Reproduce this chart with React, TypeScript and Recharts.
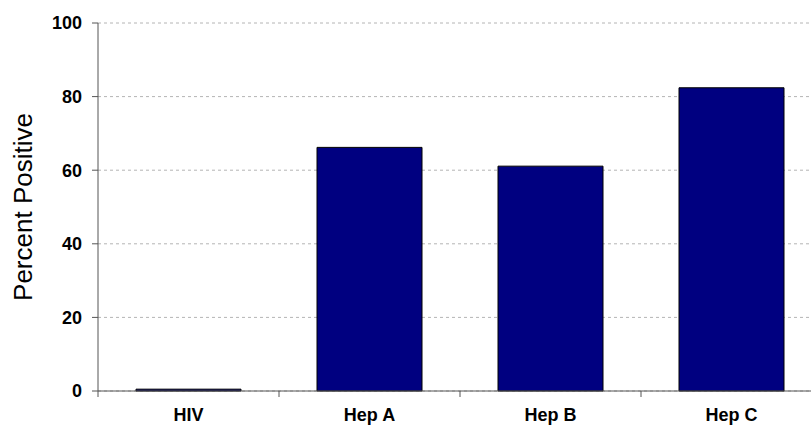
import { BarChart, Bar, XAxis, YAxis, CartesianGrid } from 'recharts';

const categories = ['HIV', 'Hep A', 'Hep B', 'Hep C'];
const percentPositive = [0.5, 66.2, 61.1, 82.4];
const yTicks = [0, 20, 40, 60, 80, 100];

const data = categories.map((name, i) => ({ name, value: percentPositive[i] }));

// plot runs past the right edge of the picture (it is cropped)
const PLOT_W = 724;
const BAND = PLOT_W / categories.length;

const CategoryTick = ({ x, y, payload, index }: any) => (
  <g>
    <line x1={x - BAND / 2} x2={x - BAND / 2} y1={y - 8} y2={y - 2} stroke="#555" />
    {index === categories.length - 1 && (
      <line x1={x + BAND / 2} x2={x + BAND / 2} y1={y - 8} y2={y - 2} stroke="#555" />
    )}
    <text x={x} y={y + 22} textAnchor="middle" fontSize={18} fontWeight="bold" fill="#000">
      {payload.value}
    </text>
  </g>
);

export default function App() {
  return (
    <div
      style={{
        position: 'absolute',
        left: 0,
        top: 0,
        width: 811,
        height: 425,
        overflow: 'hidden',
        fontFamily: '"Liberation Sans", Arial, sans-serif',
      }}
    >
      <BarChart
        width={98 + PLOT_W}
        height={425}
        data={data}
        margin={{ top: 23, right: 0, left: 0, bottom: 0 }}
        barCategoryGap="21%"
      >
        <CartesianGrid horizontal vertical={false} stroke="#b4b4b4" strokeDasharray="3 3" />
        <XAxis
          dataKey="name"
          height={34}
          axisLine={{ stroke: '#555' }}
          tickLine={false}
          tick={<CategoryTick />}
          interval={0}
        />
        <YAxis
          width={98}
          domain={[0, 100]}
          ticks={yTicks}
          axisLine={{ stroke: '#555' }}
          tickLine={{ stroke: '#555' }}
          tickSize={6}
          tickMargin={10}
          tick={{ fontSize: 18, fontWeight: 'bold', fill: '#000' }}
          label={{
            value: 'Percent Positive',
            angle: -90,
            position: 'insideLeft',
            offset: 23,
            style: { fontSize: 26, fill: '#000', textAnchor: 'middle' },
          }}
        />
        <Bar dataKey="value" fill="#000080" stroke="#000" strokeWidth={1} isAnimationActive={false} />
      </BarChart>
    </div>
  );
}
